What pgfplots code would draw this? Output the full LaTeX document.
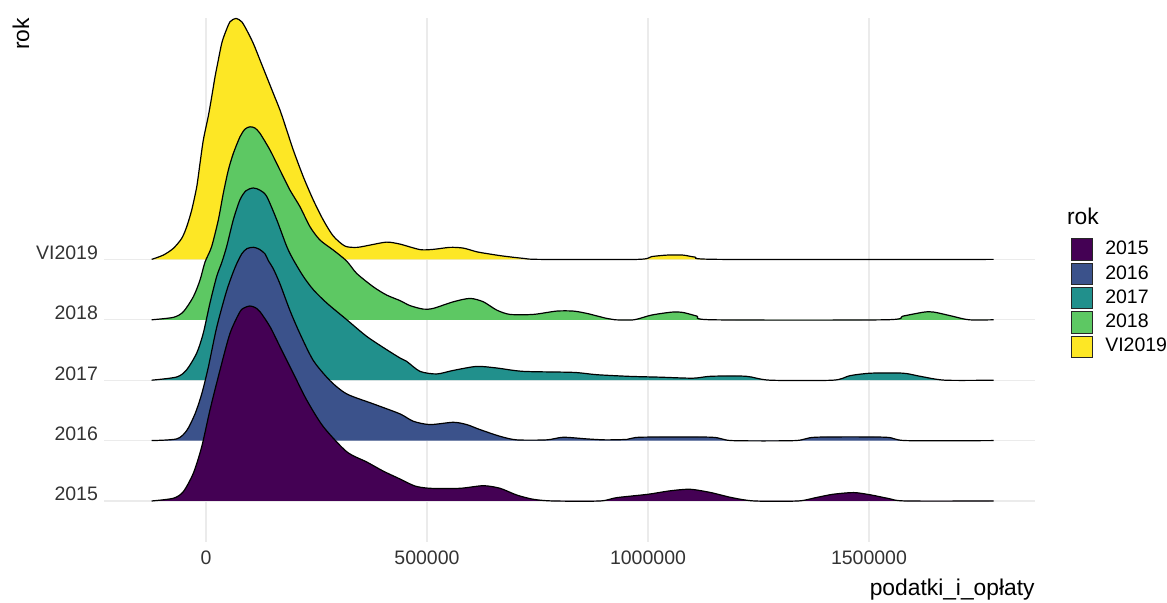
\documentclass[border=0pt]{standalone}
\usepackage{pgfplots}
\usepackage{pgfplotstable}
\pgfplotsset{compat=1.18}
\usepackage{fontspec}
\setmainfont{Liberation Sans}
\definecolor{c15}{HTML}{440154}
\definecolor{c16}{HTML}{3B528B}
\definecolor{c17}{HTML}{21908C}
\definecolor{c18}{HTML}{5DC863}
\definecolor{c19}{HTML}{FDE725}
\definecolor{gridc}{HTML}{EBEBEB}
\definecolor{tickc}{HTML}{333333}
\newcommand\tickfont{\fontsize{9.75}{11}\selectfont}
\newcommand\titlefont{\fontsize{11.4}{13}\selectfont}

% ridge heights h (in units of the spacing between rows)
\pgfplotstableread{
x h
-123000 0
-96600 0.071
-74000 0.182
-55000 0.348
-43700 0.540
-32400 0.816
-21000 1.202
-13600 1.589
-6100 1.975
5200 2.373
12900 2.692
20400 3.023
27800 3.300
35500 3.576
43000 3.742
54300 3.934
67900 3.990
80800 3.934
92100 3.796
107000 3.576
122200 3.300
137300 3.023
152300 2.748
167400 2.472
182600 2.141
197500 1.810
220100 1.368
242800 0.982
265400 0.651
288000 0.386
314500 0.220
341600 0.199
371000 0.237
408800 0.286
438900 0.253
484200 0.162
514200 0.166
552000 0.199
582100 0.187
612400 0.126
642500 0.088
672600 0.055
717900 0.017
755600 0
976200 0
1007900 0.046
1043000 0.071
1079200 0.071
1106300 0.038
1165200 0
1781900 0
}\tY

\pgfplotstableread{
x h
-123000 0
-74000 0.040
-51400 0.132
-28700 0.381
-13600 0.657
-2300 0.955
12400 1.204
27800 1.651
39100 2.093
50500 2.478
61800 2.755
76900 3.030
88200 3.157
99500 3.195
110900 3.174
122200 3.086
144800 2.810
167400 2.478
190000 2.147
212700 1.871
235300 1.540
257900 1.320
288000 1.154
318300 0.972
340900 0.768
378500 0.546
408800 0.409
438900 0.318
461500 0.235
491600 0.177
514200 0.189
559500 0.298
597300 0.354
627400 0.298
657700 0.161
687800 0.089
740500 0.089
793400 0.144
831000 0.144
861300 0.106
906500 0.023
925300 0
968300 0
1007900 0.078
1054300 0.127
1079200 0.121
1110800 0.061
1146100 0
1536200 0
1576900 0.061
1624400 0.127
1647100 0.127
1687800 0.061
1726200 0
1781900 0
}\tG

\pgfplotstableread{
x h
-123000 0
-66300 0.053
-43700 0.174
-21000 0.450
-6100 0.781
9000 1.278
24200 1.719
35500 1.945
46800 2.215
61800 2.657
76900 2.988
90500 3.137
107000 3.182
122200 3.146
137300 3.043
160000 2.657
182600 2.215
197500 1.995
220100 1.719
242800 1.498
273100 1.278
318300 1.002
363600 0.725
408800 0.505
438900 0.368
454100 0.311
484200 0.146
521900 0.103
559500 0.162
612400 0.228
657700 0.202
717900 0.146
831000 0.129
883900 0.091
959300 0.063
1027100 0.050
1101800 0.033
1142500 0.065
1221700 0.065
1276000 0
1418500 0
1457000 0.075
1504500 0.116
1576900 0.116
1615400 0.065
1671900 0
1781900 0
}\tT

\pgfplotstableread{
x h
-123000 0
-66300 0.028
-43700 0.166
-24900 0.442
-9700 0.773
5200 1.214
24200 1.876
46800 2.483
65600 2.864
80800 3.091
92800 3.179
107000 3.200
119900 3.171
133500 3.091
141000 2.980
152300 2.843
167400 2.594
190000 2.152
212700 1.767
242800 1.325
280500 0.993
318300 0.773
378500 0.608
438900 0.442
469000 0.320
506800 0.265
559500 0.303
589800 0.265
619900 0.182
665200 0.071
702900 0.012
770800 0.012
808400 0.055
861300 0.028
902700 0.012
952500 0.020
984200 0.056
1142500 0.056
1190000 0
1332600 0
1380100 0.056
1536200 0.056
1583700 0
1781900 0
}\tB

\pgfplotstableread{
x h
-123000 0
-74000 0.045
-51400 0.154
-28700 0.459
-9700 0.899
9000 1.507
31700 2.169
54300 2.776
76900 3.134
88200 3.204
99500 3.228
110900 3.204
122200 3.134
144800 2.886
167400 2.555
197500 2.114
227800 1.672
265400 1.230
318300 0.816
363600 0.646
400400 0.497
438900 0.364
472800 0.248
506800 0.210
574700 0.210
627400 0.253
665200 0.210
702900 0.099
740500 0.028
785800 0
891400 0
928900 0.055
1000000 0.111
1047500 0.166
1095000 0.194
1142500 0.139
1190000 0.055
1240900 0
1339400 0
1379200 0.055
1418500 0.111
1466100 0.139
1505400 0.099
1545200 0.040
1583700 0
1781900 0
}\tP

\begin{document}
\begin{tikzpicture}
\path[use as bounding box] (0,0) rectangle (583.5pt,301.5pt);
\begin{axis}[
  name=ax,
  at={(52pt,30.65pt)}, anchor=south west,
  scale only axis, width=465.5pt, height=261.95pt,
  xmin=-230800, xmax=1875600, ymin=-0.674, ymax=8.0,
  axis line style={draw=none}, tick style={draw=none}, major tick length=0pt,
  scaled x ticks=false,
  xtick={0,500000,1000000,1500000},
  xticklabels={0,500000,1000000,1500000},
  ytick={0,1,2,3,4},
  yticklabels={2015,2016,2017,2018,VI2019},
  xmajorgrids, ymajorgrids,
  grid style={color=gridc, line width=0.55pt},
  tick label style={font=\tickfont, text=tickc, inner sep=0pt},
  xticklabel style={anchor=north, yshift=-4.15pt},
  yticklabel style={anchor=base east, xshift=-2.85pt},
  clip=false,
  legend cell align=left,
  legend style={at={(1.0383,0.5791)}, anchor=north west, draw=none, fill=none,
    inner sep=0pt, outer sep=0pt, row sep=1pt, column sep=6.15pt,
    nodes={inner sep=0pt, font=\tickfont, text=black}},
  legend image code/.code={\draw[#1, draw=black!85, line width=0.5pt] (0pt,-5.325pt) rectangle (10.65pt,5.325pt);},
  every axis plot/.append style={smooth, tension=0.45},
]
\addlegendimage{fill=c15}
\addlegendimage{fill=c16}
\addlegendimage{fill=c17}
\addlegendimage{fill=c18}
\addlegendimage{fill=c19}

\addplot[fill=c19, draw=none, forget plot] table[x=x, y expr=\thisrow{h}+4] {\tY} -- cycle;
\addplot[black, line width=0.6pt, forget plot] table[x=x, y expr=\thisrow{h}+4] {\tY};

\addplot[fill=c18, draw=none, forget plot] table[x=x, y expr=\thisrow{h}+3] {\tG} -- cycle;
\addplot[black, line width=0.6pt, forget plot] table[x=x, y expr=\thisrow{h}+3] {\tG};

\addplot[fill=c17, draw=none, forget plot] table[x=x, y expr=\thisrow{h}+2] {\tT} -- cycle;
\addplot[black, line width=0.6pt, forget plot] table[x=x, y expr=\thisrow{h}+2] {\tT};

\addplot[fill=c16, draw=none, forget plot] table[x=x, y expr=\thisrow{h}+1] {\tB} -- cycle;
\addplot[black, line width=0.6pt, forget plot] table[x=x, y expr=\thisrow{h}+1] {\tB};

\addplot[fill=c15, draw=none, forget plot] table[x=x, y expr=\thisrow{h}] {\tP} -- cycle;
\addplot[black, line width=0.6pt, forget plot] table[x=x, y expr=\thisrow{h}] {\tP};

\legend{2015,2016,2017,2018,VI2019}
\end{axis}
\node[anchor=base east, inner sep=0pt, font=\titlefont] at ([yshift=-27.15pt]ax.south east) {podatki\_i\_opłaty};
\node[rotate=90, anchor=base east, inner sep=0pt, font=\titlefont] at ([xshift=-37.5pt]ax.north west) {rok};
\node[anchor=base west, inner sep=0pt, font=\titlefont] at (533.35pt,189pt) {rok};
\end{tikzpicture}
\end{document}
